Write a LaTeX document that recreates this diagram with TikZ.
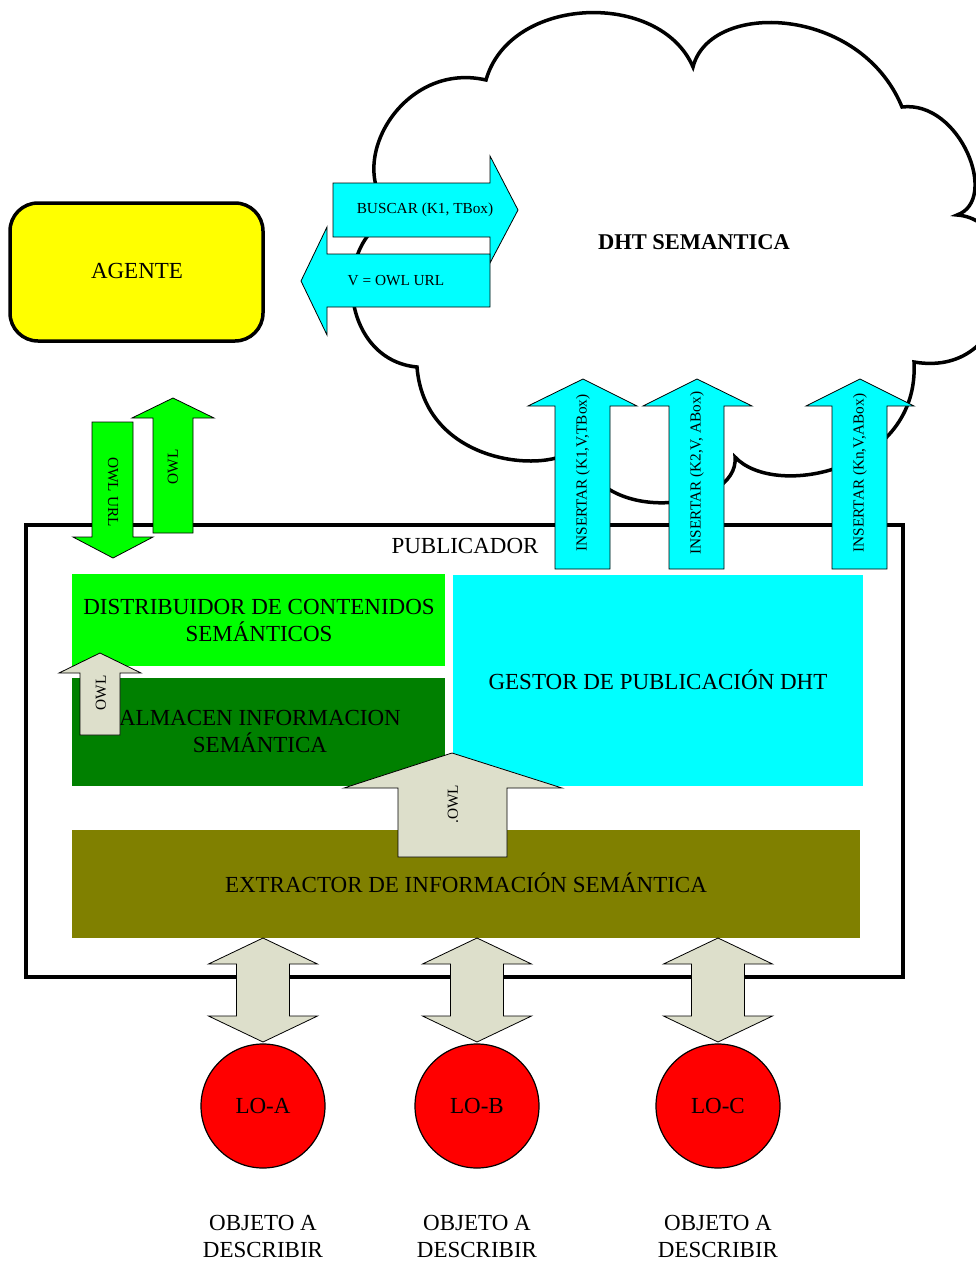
\documentclass[tikz,border=0pt]{standalone}
\usepackage{fontspec}
\setmainfont{Liberation Serif}
\definecolor{cyanfill}{RGB}{0,255,255}
\definecolor{limefill}{RGB}{0,255,0}
\definecolor{darkgreenfill}{RGB}{0,128,0}
\definecolor{olivefill}{RGB}{128,128,0}
\definecolor{beigefill}{RGB}{221,223,203}
\definecolor{yellowfill}{RGB}{255,255,0}
\definecolor{redfill}{RGB}{255,0,0}
\tikzset{
  bigtext/.style={font=\fontsize{23}{27}\selectfont, inner sep=0pt, align=center},
  smalltext/.style={font=\fontsize{15.3}{18}\selectfont, inner sep=0pt},
  blockarrow/.style={draw=black, line width=0.8pt, line join=miter},
  heavyline/.style={draw=black, line width=3.5pt},
}
\begin{document}
\begin{tikzpicture}[x=1pt, y=-1pt]
\useasboundingbox (0,0) rectangle (976,1263);
\clip (0,0) rectangle (976,1263);

% DHT cloud outline
\draw[heavyline, fill=white, line join=miter]
  (486,80)
  .. controls (510,-5) and (660,-10) .. (693,67)
  .. controls (710,0) and (860,5) .. (902,107)
  .. controls (960,100) and (1000,200) .. (957,215)
  .. controls (1030,220) and (1020,380) .. (914,362)
  .. controls (920,470) and (775,500) .. (735,457)
  .. controls (740,510) and (595,530) .. (578,445)
  .. controls (560,475) and (425,470) .. (417,367)
  .. controls (340,360) and (330,240) .. (395,215)
  .. controls (340,170) and (400,60) .. (486,80)
  -- cycle;
\node[bigtext, font=\fontsize{22.5}{27}\selectfont\bfseries] (dht) at (694,242) {DHT SEMANTICA};

% query and answer arrows between the agent and the DHT
\draw[blockarrow, fill=cyanfill]
  (333,183) -- (490,183) -- (490,156) -- (518,210) -- (490,263) -- (490,237) -- (333,237) -- cycle;
\node[smalltext] (buscar) at (425,210) {BUSCAR (K1, TBox)};
\draw[blockarrow, fill=cyanfill]
  (490,254) -- (327,254) -- (327,227) -- (301,281) -- (327,335) -- (327,307) -- (490,307) -- cycle;
\node[smalltext] (respuesta) at (396,281) {V = OWL URL};

% agent
\draw[draw=black, line width=3.5pt, fill=yellowfill, rounded corners=28pt]
  (10,203) rectangle (263,341);
\node[bigtext] (agente) at (137,271) {AGENTE};

% publisher frame
\draw[heavyline] (26,525) rectangle (903,977);
\node[bigtext] (publicador) at (465,546) {PUBLICADOR};

% inner modules
\fill[limefill] (72,574) rectangle (445,666);
\node[bigtext] (distribuidor) at (259,620) {DISTRIBUIDOR DE CONTENIDOS\\SEMÁNTICOS};
\fill[darkgreenfill] (72,678) rectangle (445,786);
\node[bigtext] (almacen) at (260,731) {ALMACEN INFORMACION\\SEMÁNTICA};
\fill[cyanfill] (453,575) rectangle (863,786);
\node[bigtext] (gestor) at (658,680) {GESTOR DE PUBLICACIÓN DHT};
\fill[olivefill] (72,830) rectangle (860,938);
\node[bigtext] (extractor) at (466,883) {EXTRACTOR DE INFORMACIÓN SEMÁNTICA};

% exchange with the agent
\draw[blockarrow, fill=limefill]
  (92,422) -- (133,422) -- (133,537) -- (153,537) -- (113,558) -- (73,537) -- (92,537) -- cycle;
\node[smalltext, rotate=-90] (owlurl) at (113,492) {OWL URL};
\draw[blockarrow, fill=limefill]
  (153,533) -- (153,418) -- (132,418) -- (173,398) -- (214,418) -- (193,418) -- (193,533) -- cycle;
\node[smalltext, rotate=90] (owlup) at (173,467) {OWL};

% insertions into the DHT
\draw[blockarrow, fill=cyanfill]
  (555,569) -- (555,406) -- (528,406) -- (583,379) -- (637,406) -- (610,406) -- (610,569) -- cycle;
\node[smalltext, rotate=90] (ins1) at (583,473) {INSERTAR (K1,V,TBox)};
\draw[blockarrow, fill=cyanfill]
  (669,569) -- (669,406) -- (643,406) -- (697,379) -- (752,406) -- (724,406) -- (724,569) -- cycle;
\node[smalltext, rotate=90] (ins2) at (697,473) {INSERTAR (K2,V, ABox)};
\draw[blockarrow, fill=cyanfill]
  (832,569) -- (832,406) -- (806,406) -- (860,379) -- (914,406) -- (887,406) -- (887,569) -- cycle;
\node[smalltext, rotate=90] (insn) at (860,473) {INSERTAR (Kn,V,ABox)};

% internal OWL flows
\draw[blockarrow, fill=beigefill]
  (80,735) -- (80,673) -- (59,673) -- (100,653) -- (141,673) -- (120,673) -- (120,735) -- cycle;
\node[smalltext, rotate=90] (owlstore) at (101,693) {OWL};
\draw[blockarrow, fill=beigefill]
  (398,857) -- (398,788) -- (344,788) -- (452,753) -- (562,788) -- (507,788) -- (507,857) -- cycle;
\node[smalltext, rotate=90] (owlextract) at (453,804) {.OWL};

% learning objects and their links to the extractor
\foreach \cx/\nm/\lbl in {263/loa/LO-A, 477/lob/LO-B, 718/loc/LO-C}{
  \draw[blockarrow, fill=beigefill]
    (\cx,938) -- (\cx+54.5,964) -- (\cx+26.5,964) -- (\cx+26.5,1016) -- (\cx+54.5,1016)
    -- (\cx,1042) -- (\cx-54.5,1016) -- (\cx-26.5,1016) -- (\cx-26.5,964) -- (\cx-54.5,964) -- cycle;
  \node[draw=black, line width=1.2pt, fill=redfill, circle, minimum size=124pt, inner sep=0pt,
        font=\fontsize{23}{27}\selectfont] (\nm) at (\cx,1106) {\lbl};
  \node[bigtext] (\nm-desc) at (\cx,1236) {OBJETO A\\DESCRIBIR};
}
\end{tikzpicture}
\end{document}
